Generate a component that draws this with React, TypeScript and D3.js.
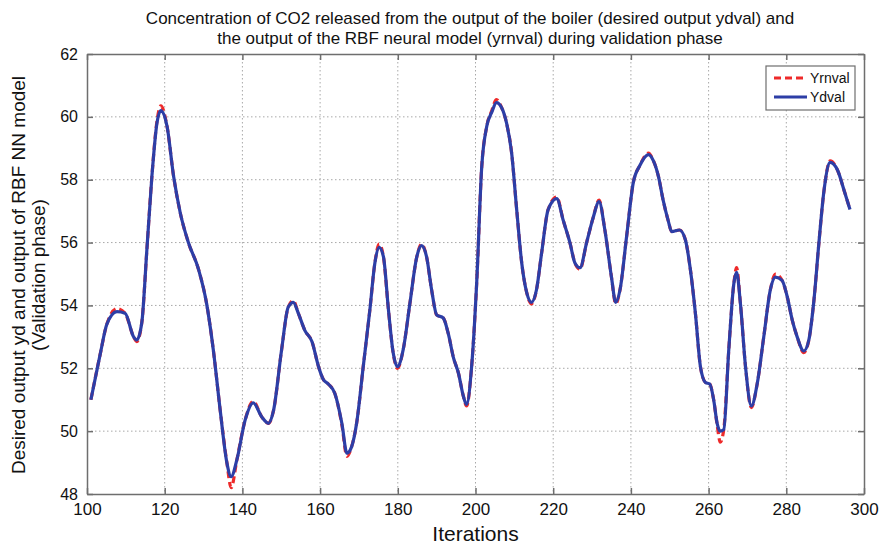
import { useEffect, useRef } from 'react';
import * as d3 from 'd3';

const iterations = [
  101, 103.4, 105.1, 107.7, 109.8, 112, 112.8, 114.1, 115.4, 116.7,
  118, 119, 120.6, 122.3, 124, 126.1, 128.7, 130.8, 132.5, 134.3,
  136, 137.1, 138.6, 140.7, 142.8, 145, 146.7, 148, 150.1, 151.8,
  153.1, 154.4, 156.1, 157.9, 159.6, 160.8, 162.1, 163.8, 165.6, 166.9,
  168.1, 169.4, 171.1, 172.8, 174.1, 175.2, 176.3, 177.6, 178.8, 179.9,
  181.4, 183.1, 184.9, 186.1, 187.4, 188.7, 190, 191.7, 193, 194.3,
  195.6, 196.9, 197.7, 199, 200.3, 201.6, 202.9, 204.2, 205.4, 206.7,
  208, 209.3, 210.6, 211.9, 213.2, 214.4, 215.7, 217, 218.7, 220.9,
  222.6, 224.3, 225.6, 226.9, 228.6, 230.3, 231.8, 233.3, 235, 236.1,
  237.2, 238.9, 240.6, 242.3, 244.5, 245.8, 247.1, 248.3, 249.6, 250.5,
  252.5, 254, 255.3, 256.6, 257.9, 259.2, 260.3, 261.3, 262.2, 263,
  263.9, 265.2, 266.5, 267.2, 268.2, 269.5, 271, 272.5, 274.2, 275.9,
  277.2, 278.9, 280.2, 281.5, 282.8, 284.5, 285.8, 287.1, 288.4, 289.7,
  291.3, 293.2, 294.9, 296.4
];

// desired output (blue)
const ydval = [
  51.0, 52.45, 53.4, 53.8, 53.75, 53.0, 52.9, 53.45, 55.75, 58.1,
  59.8, 60.2, 59.7, 58.1, 56.95, 56.0, 55.15, 54.05, 52.6, 50.65,
  49.0, 48.55, 49.1, 50.35, 50.9, 50.45, 50.25, 50.65, 52.6, 53.95,
  54.1, 53.75, 53.2, 52.85, 52.05, 51.65, 51.5, 51.2, 50.25, 49.3,
  49.5, 50.25, 52.05, 53.85, 55.35, 55.85, 55.55, 53.85, 52.5, 52.05,
  52.6, 54.05, 55.55, 55.9, 55.55, 54.5, 53.7, 53.6, 53.1, 52.35,
  51.85, 51.1, 50.85, 52.05, 54.7, 58.4, 59.7, 60.15, 60.45, 60.3,
  59.8, 58.85, 57.05, 55.35, 54.4, 54.1, 54.5, 55.65, 57.05, 57.4,
  56.7, 56.0, 55.35, 55.2, 56.0, 56.8, 57.3, 56.4, 54.9, 54.1,
  54.5, 56.2, 57.9, 58.45, 58.8, 58.6, 58.1, 57.35, 56.7, 56.35,
  56.4, 56.1, 55.15, 53.75, 52.05, 51.55, 51.5, 51.0, 50.25, 50.0,
  50.05, 52.6, 54.7, 55.05, 54.05, 52.05, 50.8, 51.5, 53.0, 54.5,
  54.9, 54.8, 54.3, 53.55, 53.0, 52.55, 52.9, 54.15, 56.0, 57.65,
  58.55, 58.3, 57.65, 57.05
];

// RBF model output (red dashed)
const yrnval = [
  51.0, 52.45, 53.4, 53.9, 53.75, 53.0, 52.85, 53.45, 55.75, 58.1,
  59.85, 60.35, 59.7, 58.1, 56.95, 56.0, 55.15, 54.05, 52.6, 50.65,
  49.0, 48.2, 49.1, 50.35, 50.95, 50.45, 50.25, 50.65, 52.6, 53.95,
  54.15, 53.75, 53.2, 52.85, 52.05, 51.65, 51.5, 51.2, 50.2, 49.2,
  49.5, 50.25, 52.05, 53.85, 55.35, 55.95, 55.55, 53.85, 52.5, 52.0,
  52.6, 54.05, 55.55, 55.95, 55.55, 54.5, 53.7, 53.6, 53.1, 52.35,
  51.85, 51.1, 50.8, 52.05, 54.7, 58.4, 59.7, 60.2, 60.55, 60.3,
  59.8, 58.85, 57.05, 55.35, 54.4, 54.05, 54.5, 55.65, 57.05, 57.45,
  56.7, 56.0, 55.35, 55.15, 56.0, 56.8, 57.35, 56.4, 54.9, 54.05,
  54.5, 56.2, 57.9, 58.45, 58.85, 58.6, 58.1, 57.35, 56.7, 56.35,
  56.4, 56.1, 55.15, 53.75, 52.05, 51.55, 51.5, 51.0, 50.2, 49.65,
  50.05, 52.6, 54.7, 55.2, 54.05, 52.05, 50.75, 51.5, 53.0, 54.5,
  55.0, 54.8, 54.3, 53.55, 53.0, 52.5, 52.9, 54.15, 56.0, 57.65,
  58.6, 58.3, 57.65, 57.05
];

const xTicks = [100, 120, 140, 160, 180, 200, 220, 240, 260, 280, 300];
const yTicks = [48, 50, 52, 54, 56, 58, 60, 62];

const titleLines = [
  'Concentration of CO2 released from the output of the boiler (desired output ydval) and',
  'the output of the RBF neural model (yrnval) during validation phase'
];
const yLabelLines = ['Desired output yd and output of RBF NN model', '(Validation phase)'];
const xLabel = 'Iterations';
const legendNames = ['Yrnval', 'Ydval'];

const WIDTH = 882;
const HEIGHT = 548;
const MARGIN = { left: 87, right: 18, top: 54, bottom: 54 };
const FONT = '"Liberation Sans Narrow", "Arial Narrow", "Liberation Sans", Arial, sans-serif';
const RED = '#ee2a2a';
const BLUE = '#2d3ea6';
const FRAME = '#6e6e6e';

export default function App() {
  const xAxisRef = useRef<SVGGElement>(null);
  const yAxisRef = useRef<SVGGElement>(null);
  const topAxisRef = useRef<SVGGElement>(null);
  const rightAxisRef = useRef<SVGGElement>(null);

  const drawWidth = WIDTH - MARGIN.left - MARGIN.right;
  const drawHeight = HEIGHT - MARGIN.top - MARGIN.bottom;

  const xScale = d3.scaleLinear().domain([100, 300]).range([0, drawWidth]);
  const yScale = d3.scaleLinear().domain([48, 62]).range([drawHeight, 0]);

  const line = d3.line<number>()
    .x((_, i) => xScale(iterations[i]))
    .y((d) => yScale(d))
    .curve(d3.curveMonotoneX);

  useEffect(() => {
    const style = (g: d3.Selection<SVGGElement, unknown, null, undefined>) => {
      g.select('.domain').attr('stroke', FRAME).attr('stroke-width', 1.5);
      g.selectAll('.tick line').attr('stroke', FRAME).attr('stroke-width', 1.5);
      g.selectAll('.tick text').attr('fill', '#111');
    };

    d3.select(xAxisRef.current!)
      .call(d3.axisBottom(xScale).tickValues(xTicks).tickSizeInner(-6).tickSizeOuter(0).tickPadding(9))
      .attr('font-family', FONT).attr('font-size', 17)
      .call(style);

    d3.select(yAxisRef.current!)
      .call(d3.axisLeft(yScale).tickValues(yTicks).tickSizeInner(-6).tickSizeOuter(0).tickPadding(9))
      .attr('font-family', FONT).attr('font-size', 16)
      .call(style);

    d3.select(topAxisRef.current!)
      .call(d3.axisTop(xScale).tickValues(xTicks).tickSizeInner(-6).tickSizeOuter(0).tickFormat(() => ''))
      .call(style);

    d3.select(rightAxisRef.current!)
      .call(d3.axisRight(yScale).tickValues(yTicks).tickSizeInner(-6).tickSizeOuter(0).tickFormat(() => ''))
      .call(style);
  }, []);

  return (
    <div style={{ position: 'fixed', left: 0, top: 0 }}>
      <svg width={WIDTH} height={HEIGHT} style={{ display: 'block', background: '#fff' }}>
        {/* title */}
        <g fontFamily={FONT} fontSize={17} fill="#111" textAnchor="middle">
          {titleLines.map((t, i) => (
            <text key={i} x={470} y={24 + i * 20}>{t}</text>
          ))}
        </g>

        <g transform={`translate(${MARGIN.left}, ${MARGIN.top})`}>
          {/* grid */}
          <g stroke="#a8a8a8" strokeWidth={1} strokeDasharray="1.5,2.5">
            {xTicks.slice(1, -1).map((t) => (
              <line key={t} x1={xScale(t)} x2={xScale(t)} y1={0} y2={drawHeight} />
            ))}
            {yTicks.slice(1, -1).map((t) => (
              <line key={t} x1={0} x2={drawWidth} y1={yScale(t)} y2={yScale(t)} />
            ))}
          </g>

          {/* series */}
          <path d={line(yrnval) ?? ''} fill="none" stroke={RED} strokeWidth={3.2} strokeDasharray="7,4" />
          <path d={line(ydval) ?? ''} fill="none" stroke={BLUE} strokeWidth={3.2} strokeLinejoin="round" />

          {/* axes */}
          <g ref={xAxisRef} transform={`translate(0, ${drawHeight})`} />
          <g ref={yAxisRef} />
          <g ref={topAxisRef} />
          <g ref={rightAxisRef} transform={`translate(${drawWidth}, 0)`} />

          {/* legend */}
          <g transform={`translate(${drawWidth - 98}, 12)`} fontFamily={FONT} fontSize={14} fill="#111">
            <rect x={0} y={0} width={89} height={44} fill="#fff" stroke={FRAME} strokeWidth={1.2} />
            {legendNames.map((name, i) => (
              <g key={name} transform={`translate(0, ${12 + i * 19})`}>
                <line x1={8} x2={41} y1={0} y2={0}
                  stroke={i === 0 ? RED : BLUE} strokeWidth={3.2}
                  strokeDasharray={i === 0 ? '7,4' : undefined} />
                <text x={44} y={5}>{name}</text>
              </g>
            ))}
          </g>
        </g>

        {/* axis labels */}
        <text x={MARGIN.left + drawWidth / 2} y={541} textAnchor="middle"
          fontFamily={FONT} fontSize={21} fill="#111">{xLabel}</text>
        <g fontFamily='"Liberation Sans", Arial, sans-serif' fontSize={19} fill="#111" textAnchor="middle">
          {yLabelLines.map((t, i) => (
            <text key={i} transform={`translate(${25 + i * 20}, 275) rotate(-90)`}>{t}</text>
          ))}
        </g>
      </svg>
    </div>
  );
}
